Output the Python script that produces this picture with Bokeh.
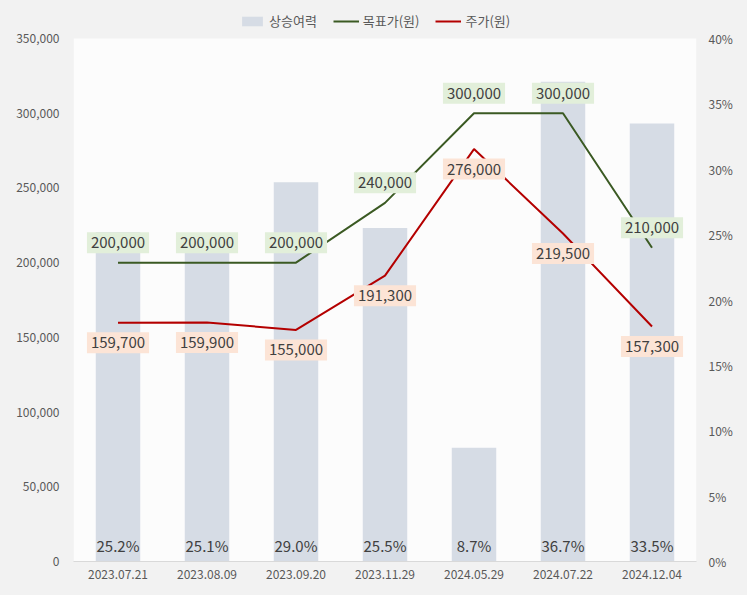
from bokeh.plotting import figure
from bokeh.models import (ColumnDataSource, LinearAxis, Range1d, FactorRange, LabelSet, Label,
                          Legend, LegendItem, NumeralTickFormatter, FixedTicker, BoxAnnotation)
from bokeh.core.properties import value
from bokeh.embed import file_html
from bokeh.resources import INLINE

dates = ["2023.07.21", "2023.08.09", "2023.09.20", "2023.11.29", "2024.05.29", "2024.07.22", "2024.12.04"]
upside = [25.2, 25.1, 29.0, 25.5, 8.7, 36.7, 33.5]
target = [200000, 200000, 200000, 240000, 300000, 300000, 210000]
price = [159700, 159900, 155000, 191300, 276000, 219500, 157300]
y_ticks = [0, 50000, 100000, 150000, 200000, 250000, 300000, 350000]
pct_ticks = [0, 0.05, 0.10, 0.15, 0.20, 0.25, 0.30, 0.35, 0.40]

FONT = "Noto Sans CJK KR"
TXT = "#404040"
TICK = "#595959"

# frame spans from page top to the x axis; the plotting area (white) ends at the top tick,
# leaving room for the legend above it
FRAME_H, AREA_H = 561, 523
stretch = FRAME_H / AREA_H

src = ColumnDataSource(dict(
    d=dates,
    up=[u / 100 for u in upside],
    up_lbl=[f"{u:.1f}%" for u in upside],
    zero=[0] * len(dates),
    tgt=target,
    prc=price,
))

p = figure(frame_width=623, frame_height=FRAME_H, x_range=FactorRange(*dates, range_padding=0),
           y_range=Range1d(0, y_ticks[-1] * stretch), output_backend="svg", toolbar_location=None,
           min_border_left=73, min_border_right=51, min_border_top=0, min_border_bottom=34,
           background_fill_color="#f2f2f2", border_fill_color="#f2f2f2", outline_line_color=None)
p.extra_y_ranges = {"pct": Range1d(0, pct_ticks[-1] * stretch)}

p.add_layout(BoxAnnotation(bottom=0, top=y_ticks[-1], fill_color="#fcfcfc", fill_alpha=1,
                           line_color=None, level="underlay"))

bars = p.vbar(x="d", top="up", width=0.5, source=src, y_range_name="pct",
              fill_color="#d6dce5", line_color=None)
gl = p.line(x="d", y="tgt", source=src, line_color="#3b5a23", line_width=2)
rl = p.line(x="d", y="prc", source=src, line_color="#b40000", line_width=2)

p.grid.visible = False

# axes
p.yaxis.ticker = FixedTicker(ticks=y_ticks)
p.yaxis.formatter = NumeralTickFormatter(format="0,0")
ax_r = LinearAxis(y_range_name="pct", ticker=FixedTicker(ticks=pct_ticks),
                  formatter=NumeralTickFormatter(format="0%"))
p.add_layout(ax_r, "right")
for ax in [p.yaxis[0], ax_r]:
    ax.axis_line_color = None
    ax.major_tick_line_color = None
    ax.minor_tick_line_color = None
    ax.major_tick_out = 0
    ax.minor_tick_out = 0
    ax.major_label_text_color = TICK
    ax.major_label_text_font = FONT
    ax.major_label_text_font_size = "12px"
p.yaxis[0].major_label_standoff = 14
ax_r.major_label_standoff = 12
p.xaxis.axis_line_color = "#d9d9d9"
p.xaxis.major_tick_line_color = None
p.xaxis.major_tick_out = 0
p.xaxis.major_label_text_color = TICK
p.xaxis.major_label_text_font = FONT
p.xaxis.major_label_text_font_size = "12px"
p.xaxis.major_label_standoff = 8

# labels
lab_pct = LabelSet(x="d", y="zero", text="up_lbl", source=src, y_range_name="pct",
                   text_align="center", text_baseline="middle", y_offset=16,
                   text_font=value(FONT), text_font_size=value("15px"), text_color=TXT)
p.add_layout(lab_pct)

box_pad = dict(left=4, right=4, top=5, bottom=5)
for i, (t, pr) in enumerate(zip(target, price)):
    xc = i + 0.5  # synthetic coordinate of the i-th factor centre
    p.add_layout(Label(x=xc, y=t, text=f"{t:,}", text_align="center", text_baseline="middle",
                       y_offset=20, text_font=FONT, text_font_size="15px", text_color=TXT,
                       background_fill_color="#e2efda", padding=box_pad))
    p.add_layout(Label(x=xc, y=pr, text=f"{pr:,}", text_align="center", text_baseline="middle",
                       y_offset=-20, text_font=FONT, text_font_size="15px", text_color=TXT,
                       background_fill_color="#fce4d6", padding=box_pad))

legend = Legend(items=[LegendItem(label="상승여력", renderers=[bars]),
                       LegendItem(label="목표가(원)", renderers=[gl]),
                       LegendItem(label="주가(원)", renderers=[rl])],
                orientation="horizontal", location=(166, 531),
                label_text_font=FONT, label_text_font_size="13px", label_text_color=TICK,
                background_fill_alpha=0, border_line_color=None,
                glyph_width=26, glyph_height=12, spacing=16, padding=2, margin=0,
                label_standoff=4, label_height=14)
p.add_layout(legend)

html = file_html(p, INLINE)
html = html.replace("<body>", '<body style="background:#f2f2f2">')
open("out.html", "w").write(html)
